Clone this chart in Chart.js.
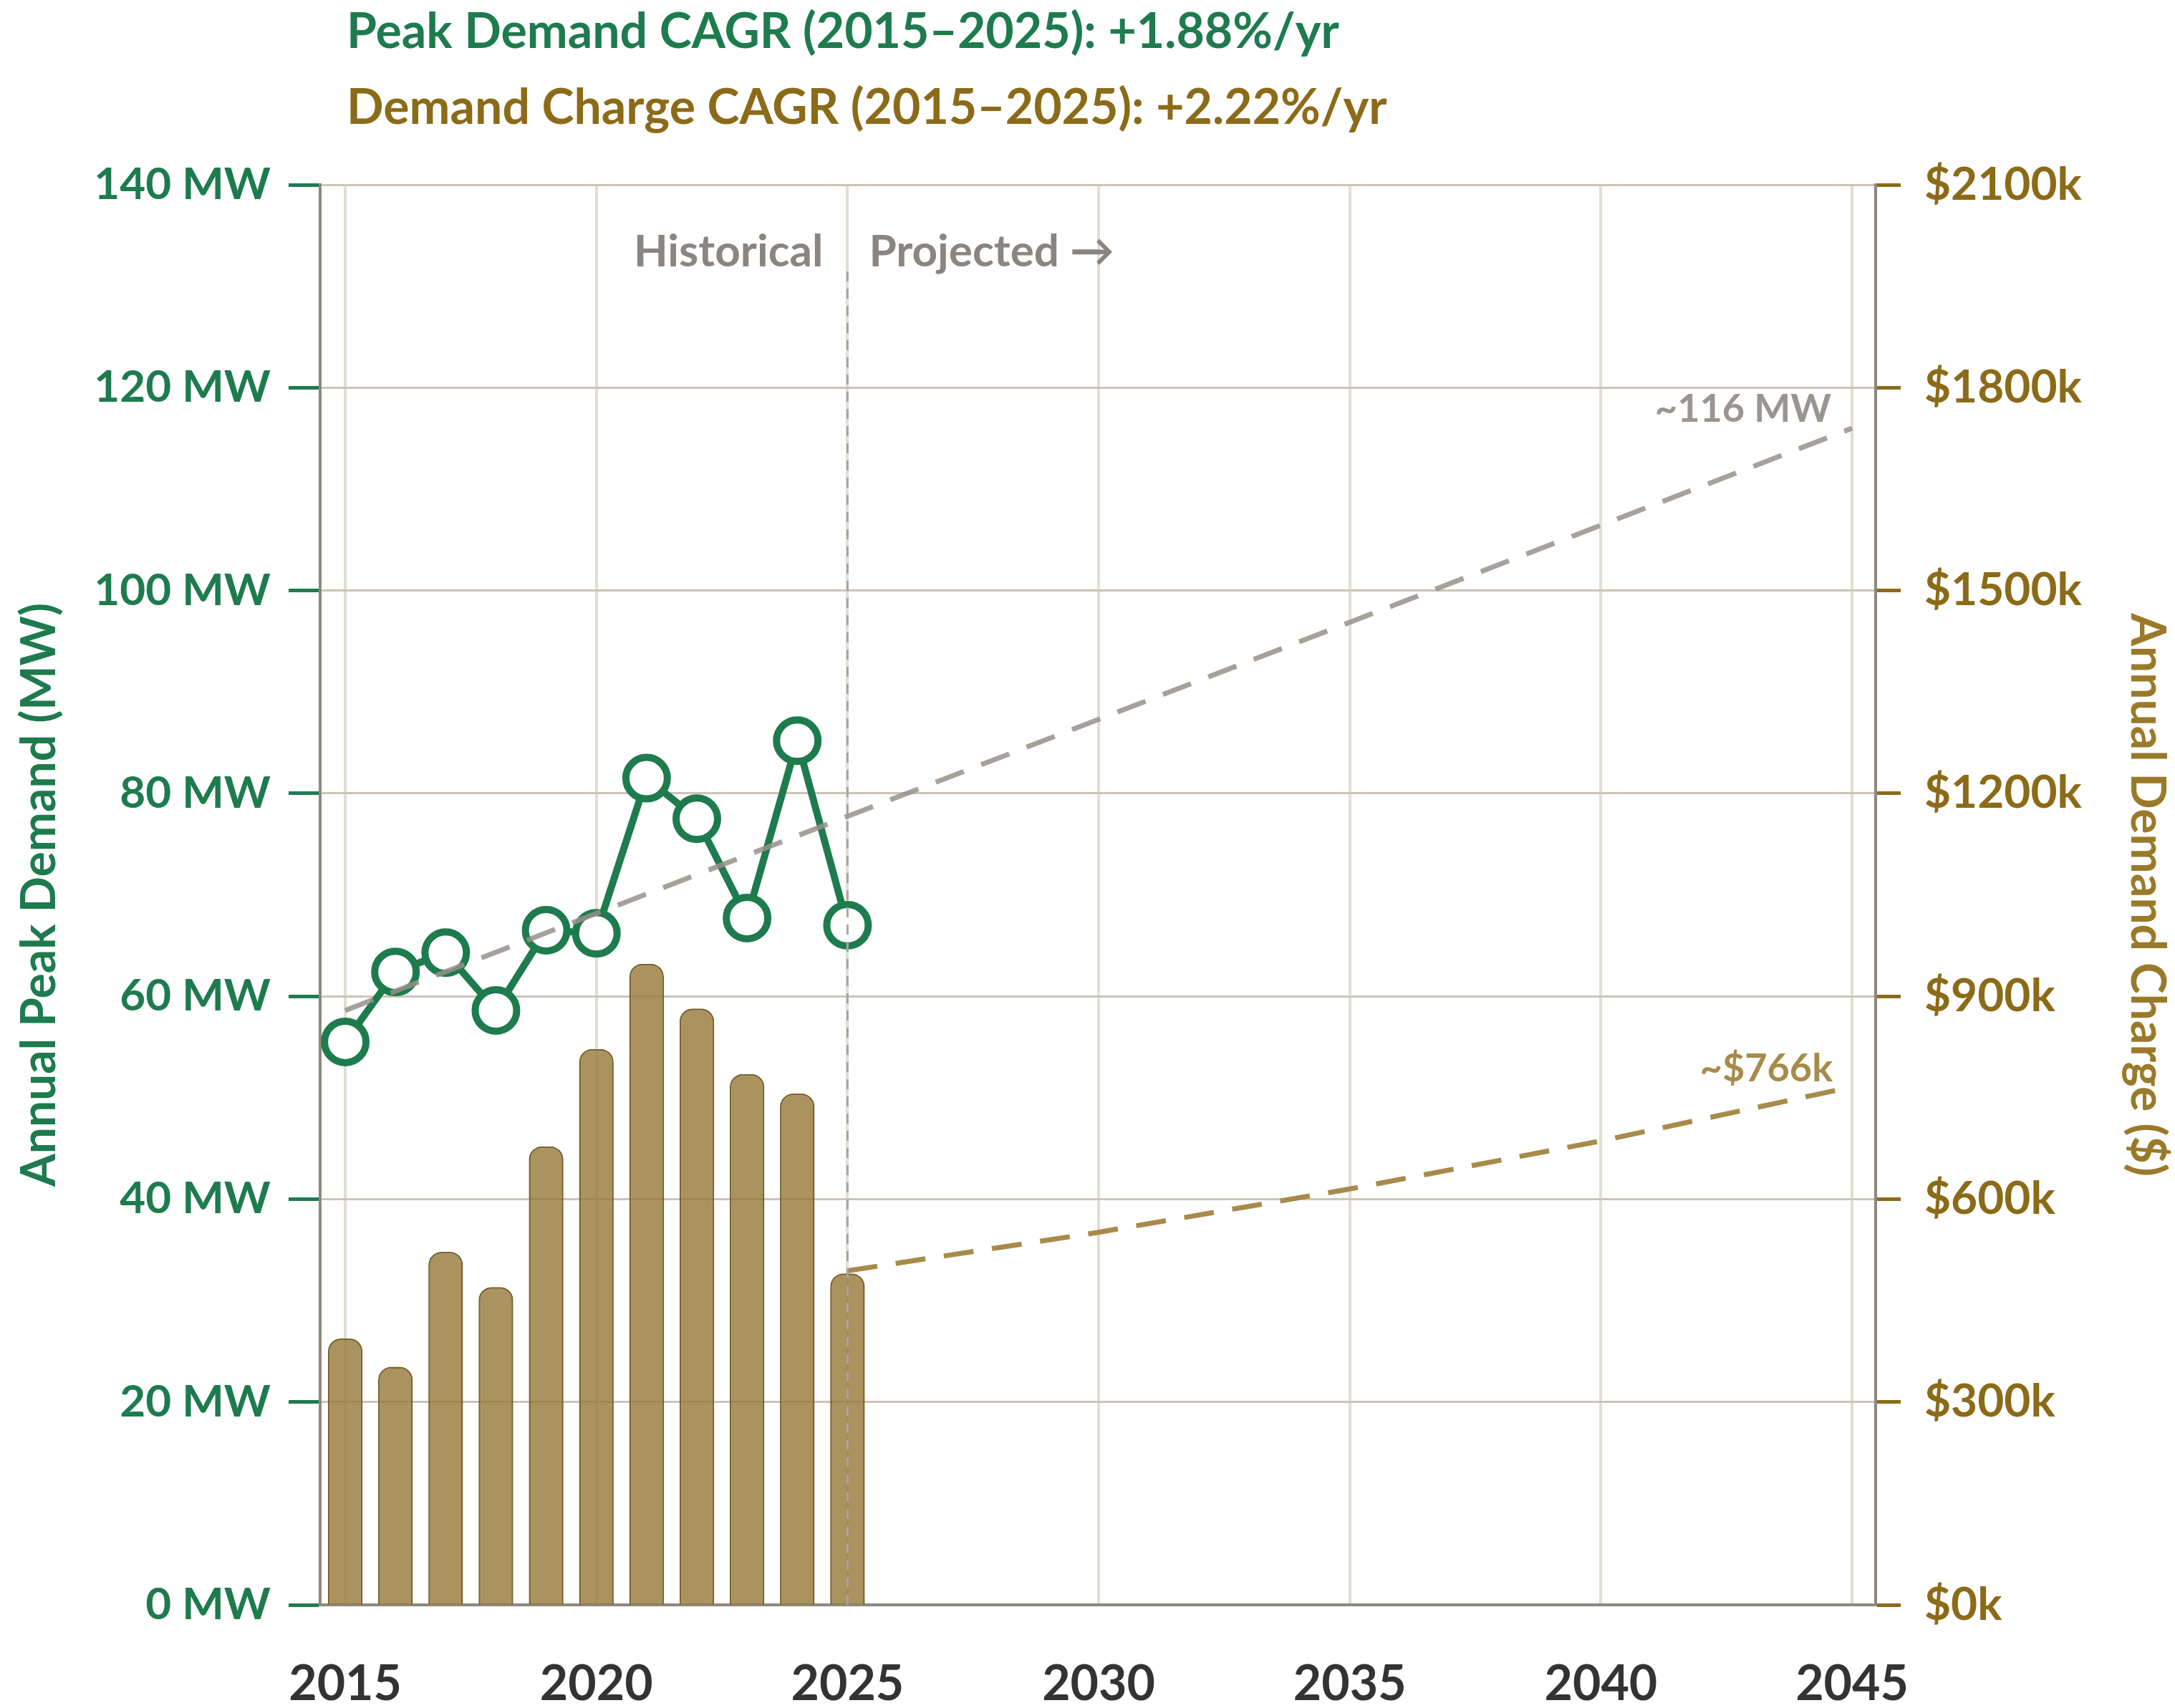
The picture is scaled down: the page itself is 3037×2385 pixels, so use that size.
<!DOCTYPE html>
<html>
<head>
<meta charset="utf-8">
<script src="https://cdn.jsdelivr.net/npm/chart.js@4/dist/chart.umd.min.js"></script>
<style>
  body { margin: 0; background: #fff; }
  canvas { display: block; }
</style>
</head>
<body>
<canvas id="chart" width="3037" height="2385"></canvas>
<script>
// historical years and values
const years = [2015, 2016, 2017, 2018, 2019, 2020, 2021, 2022, 2023, 2024, 2025];
const peakMW = [55.5, 62.4, 64.3, 58.6, 66.5, 66.2, 81.5, 77.5, 67.7, 85.2, 67.0];
const chargeK = [394, 352, 522, 470, 678, 822, 948, 882, 785, 756, 490];

// projections
const trendYears = [2015, 2045];
const trendMW = [58.6, 116];
const projYears = [2025, 2030, 2035, 2040, 2045];
const projK = [494, 551, 615, 686, 766];

// divider between historical and projected
const dividerYears = [2025, 2025];
const dividerMW = [0, 132];

const xTicks = [2015, 2020, 2025, 2030, 2035, 2040, 2045];

const GREEN = "#1e7b4e";
const GOLD = "#8c6b18";
const GOLD_LIGHT = "#a88b4a";
const GRAY = "#8a8580";

Chart.defaults.font.family = "Lato";
Chart.defaults.font.weight = "bold";

const pts = (xs, ys) => xs.map((x, i) => ({ x: x, y: ys[i] }));

const overlayText = {
    id: "overlayText",
    afterDraw(chart) {
        const { ctx, chartArea, scales } = chart;
        const x = scales.x, y = scales.y, y2 = scales.y2;
        ctx.save();
        ctx.textBaseline = "middle";

        ctx.font = "bold 68px Lato";
        ctx.textAlign = "left";
        ctx.fillStyle = GREEN;
        ctx.fillText("Peak Demand CAGR (2015–2025): +1.88%/yr", chartArea.left + 37, 45);
        ctx.fillStyle = GOLD;
        ctx.fillText("Demand Charge CAGR (2015–2025): +2.22%/yr", chartArea.left + 37, 151);

        ctx.font = "bold 62px Lato";
        ctx.fillStyle = GRAY;
        const xd = x.getPixelForValue(2025);
        ctx.textAlign = "right";
        ctx.fillText("Historical", xd - 34, chartArea.top + 94);
        ctx.textAlign = "left";
        ctx.fillText("Projected →", xd + 30, chartArea.top + 94);

        ctx.font = "bold 54px Lato";
        ctx.textAlign = "right";
        ctx.fillStyle = "#9a9590";
        ctx.fillText("~116 MW", x.getPixelForValue(2045) - 29, y.getPixelForValue(116) - 26);
        ctx.fillStyle = GOLD_LIGHT;
        ctx.fillText("~$766k", x.getPixelForValue(2045) - 27, y2.getPixelForValue(766) - 25);
        ctx.restore();
    }
};

new Chart(document.getElementById("chart"), {
    type: "bar",
    data: {
        datasets: [
            {
                type: "line",
                data: pts(trendYears, trendMW),
                yAxisID: "y",
                borderColor: "rgba(150,144,136,0.85)",
                borderWidth: 7,
                borderDash: [42, 26],
                pointRadius: 0,
                order: 0
            },
            {
                type: "line",
                data: pts(dividerYears, dividerMW),
                yAxisID: "y",
                borderColor: "#aaa5a0",
                borderWidth: 3,
                borderDash: [14, 10],
                pointRadius: 0,
                order: 1
            },
            {
                type: "line",
                data: pts(years, peakMW),
                yAxisID: "y",
                borderColor: GREEN,
                borderWidth: 10,
                pointRadius: 29,
                pointBorderWidth: 10,
                pointBackgroundColor: "#fff",
                pointBorderColor: GREEN,
                order: 2
            },
            {
                type: "line",
                data: pts(projYears, projK),
                yAxisID: "y2",
                borderColor: GOLD_LIGHT,
                borderWidth: 7,
                borderDash: [42, 26],
                pointRadius: 0,
                order: 3
            },
            {
                type: "bar",
                data: pts(years, chargeK),
                yAxisID: "y2",
                backgroundColor: "rgba(150,120,55,0.8)",
                borderColor: "#7a6330",
                borderWidth: 2.5,
                borderSkipped: "bottom",
                borderRadius: { topLeft: 18, topRight: 18, bottomLeft: 0, bottomRight: 0 },
                barPercentage: 0.69,
                categoryPercentage: 1,
                order: 4
            }
        ]
    },
    options: {
        responsive: false,
        animation: false,
        layout: { padding: { top: 258, left: 0, right: 0, bottom: 0 } },
        plugins: { legend: { display: false }, tooltip: { enabled: false } },
        scales: {
            x: {
                type: "linear",
                min: 2014.5,
                max: 2045.47,
                offset: false,
                afterBuildTicks: s => { s.ticks = xTicks.map(v => ({ value: v })); },
                afterFit: s => { s.height = 144; },
                grid: { color: "#e3ddd3", lineWidth: 4, drawTicks: false, offset: false },
                border: { color: "#8f877c", width: 4 },
                ticks: {
                    color: "#333",
                    font: { size: 68, weight: "bold" },
                    padding: 70,
                    callback: v => String(v)
                }
            },
            y: {
                position: "left",
                min: 0,
                max: 140,
                afterFit: s => { s.width = 447; },
                grid: { color: "#cdc4b6", lineWidth: 3, tickColor: GREEN, tickWidth: 5, tickLength: 44 },
                border: { color: "#8f877c", width: 4 },
                ticks: {
                    stepSize: 20,
                    color: GREEN,
                    padding: 25,
                    font: { size: 62, weight: "bold" },
                    callback: v => v + " MW"
                },
                title: {
                    display: true,
                    text: "Annual Peak Demand (MW)",
                    color: GREEN,
                    font: { size: 66, weight: "bold" },
                    padding: { top: 16, bottom: 0 }
                }
            },
            y2: {
                position: "right",
                min: 0,
                max: 2100,
                afterFit: s => { s.width = 418; },
                grid: { drawOnChartArea: false, tickColor: GOLD, tickWidth: 5, tickLength: 35 },
                border: { color: "#8f877c", width: 4 },
                ticks: {
                    stepSize: 300,
                    color: GOLD,
                    padding: 33,
                    font: { size: 64, weight: "bold" },
                    callback: v => "$" + v + "k"
                },
                title: {
                    display: true,
                    text: "Annual Demand Charge ($)",
                    color: "#9a7a2a",
                    font: { size: 66, weight: "bold" },
                    padding: { top: 0, bottom: 0 }
                }
            }
        }
    },
    plugins: [overlayText]
});
</script>
</body>
</html>
